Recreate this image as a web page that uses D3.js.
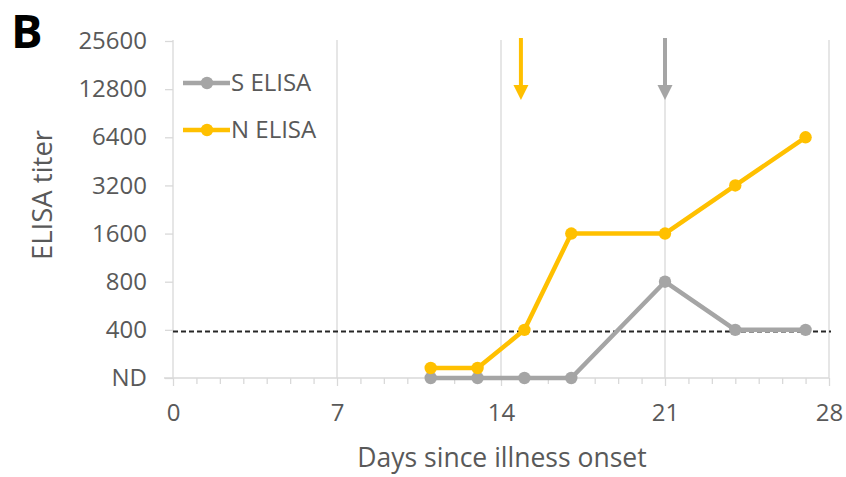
<!DOCTYPE html>
<html>
<head>
<meta charset="utf-8">
<script src="https://cdn.jsdelivr.net/npm/d3@7"></script>
<style>
  body { margin: 0; background: #fff; }
  text { font-family: "Open Sans", sans-serif; fill: #595959; }
</style>
</head>
<body>
<svg id="chart"></svg>
<script>
// Data
const days = [11, 13, 15, 17, 21, 24, 27]
const sElisa = [200, 200, 200, 200, 800, 400, 400]   // 200 = ND
const nElisa = [231, 231, 400, 1600, 1600, 3200, 6400]
const yTickValues = [200, 400, 800, 1600, 3200, 6400, 12800, 25600]
const yTickLabels = ["ND", "400", "800", "1600", "3200", "6400", "12800", "25600"]
const xTickValues = [0, 7, 14, 21, 28]
const cutoff = 390
const arrowDays = [14.85, 21]
const arrowColors = ["#FFC000", "#A5A5A5"]

var svgWidth = 846, svgHeight = 477
var svg = d3.select('#chart')
    .attr("width", svgWidth)
    .attr("height", svgHeight)

var x = d3.scaleLinear().domain([0, 28]).range([173, 829])
var y = d3.scaleLog().base(2).domain([200, 25600]).range([378, 41])

// gridlines
svg.selectAll(".grid")
    .data(xTickValues)
    .enter()
    .append("line")
    .attr("x1", (d) => x(d)).attr("x2", (d) => x(d))
    .attr("y1", y(25600) - 1).attr("y2", y(200))
    .attr("stroke", "#d9d9d9").attr("stroke-width", 1.3)

// x axis
var xAxis = d3.axisBottom(x)
    .tickValues(d3.range(0, 29))
    .tickSize(6)
    .tickFormat((d) => xTickValues.includes(d) ? d : "")
var gx = svg.append("g")
    .attr("transform", "translate(0," + y(200) + ")")
    .call(xAxis)
gx.select(".domain").attr("d", "M" + 164 + ",0H" + x(28)).attr("stroke", "#d9d9d9").attr("stroke-width", 1.3)
gx.selectAll(".tick line").attr("stroke", "#d9d9d9").attr("stroke-width", 1.3)
    .attr("y2", (d) => xTickValues.includes(d) ? 8 : 6)
gx.selectAll(".tick text").attr("font-size", 24).attr("y", 35).attr("dy", "0.35em")
    .attr("font-family", "Open Sans").attr("fill", "#595959")

// y axis
var yAxis = d3.axisLeft(y)
    .tickValues(yTickValues)
    .tickSize(8)
    .tickFormat((d, i) => yTickLabels[i])
var gy = svg.append("g")
    .attr("transform", "translate(" + x(0) + ",0)")
    .call(yAxis)
gy.select(".domain").remove()
gy.selectAll(".tick line").attr("stroke", "#d9d9d9").attr("stroke-width", 1.3)
gy.selectAll(".tick text").attr("font-size", 24).attr("x", -26)
    .attr("font-family", "Open Sans").attr("fill", "#595959")

// cutoff
svg.append("line")
    .attr("x1", x(0)).attr("x2", x(28) + 2)
    .attr("y1", y(cutoff)).attr("y2", y(cutoff))
    .attr("stroke", "#262626").attr("stroke-width", 2)
    .attr("stroke-dasharray", "5,3")

// series
var series = [
    { name: "S ELISA", values: sElisa, color: "#A5A5A5" },
    { name: "N ELISA", values: nElisa, color: "#FFC000" }
]
var line = d3.line().x((d) => x(d[0])).y((d) => y(d[1]))

series.forEach((s) => {
    var pts = days.map((d, i) => [d, s.values[i]])
    svg.append("path")
        .attr("d", line(pts))
        .attr("fill", "none")
        .attr("stroke", s.color)
        .attr("stroke-width", 4.5)
        .attr("stroke-linejoin", "round")
    svg.selectAll(null)
        .data(pts)
        .enter()
        .append("circle")
        .attr("cx", (d) => x(d[0]))
        .attr("cy", (d) => y(d[1]))
        .attr("r", 6.2)
        .attr("fill", s.color)
})

// arrows
arrowDays.forEach((d, i) => {
    var ax = x(d)
    svg.append("line")
        .attr("x1", ax).attr("x2", ax)
        .attr("y1", 38).attr("y2", 88)
        .attr("stroke", arrowColors[i]).attr("stroke-width", 4)
    svg.append("path")
        .attr("d", "M" + (ax - 7.5) + ",85L" + (ax + 7.5) + ",85L" + ax + ",100Z")
        .attr("fill", arrowColors[i])
})

// legend
var legend = svg.selectAll(".legend")
    .data(series)
    .enter()
    .append("g")
    .attr("transform", (d, i) => "translate(183," + (83 + i * 47) + ")")
legend.append("line")
    .attr("x1", 0).attr("x2", 47)
    .attr("stroke", (d) => d.color).attr("stroke-width", 4.5)
legend.append("circle")
    .attr("cx", 24).attr("r", 6.2)
    .attr("fill", (d) => d.color)
legend.append("text")
    .attr("x", 48).attr("dy", "0.35em")
    .attr("font-size", 24)
    .text((d) => d.name)

// titles
svg.append("text")
    .attr("x", 502).attr("y", 467)
    .attr("text-anchor", "middle")
    .attr("font-size", 26.5)
    .text("Days since illness onset")
svg.append("text")
    .attr("transform", "translate(52,195) rotate(-90)")
    .attr("text-anchor", "middle")
    .attr("font-size", 27.5)
    .text("ELISA titer")
svg.append("text")
    .attr("x", 11).attr("y", 48)
    .attr("font-family", "Liberation Sans")
    .attr("font-weight", "bold")
    .attr("font-size", 47)
    .style("fill", "#000")
    .text("B")
</script>
</body>
</html>
